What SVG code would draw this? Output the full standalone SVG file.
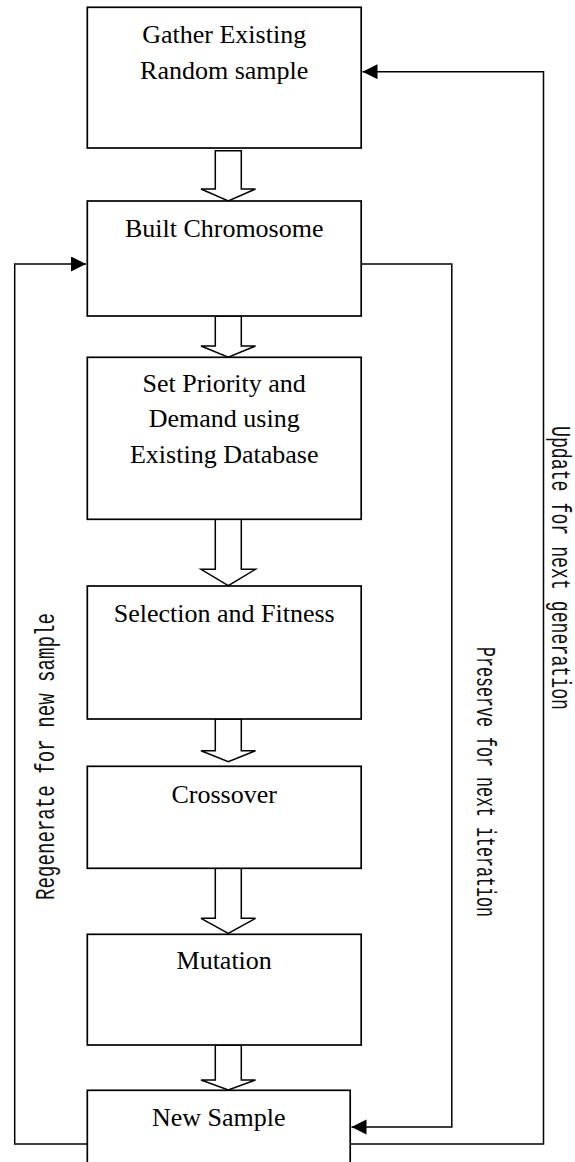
<svg xmlns="http://www.w3.org/2000/svg" width="575" height="1162" viewBox="0 0 575 1162">
<style>
.box{fill:#fff;stroke:#000;stroke-width:1.7}
.blk{fill:#fff;stroke:#000;stroke-width:1.5;stroke-linejoin:miter}
.lbl{font-family:"Liberation Serif","Times New Roman",serif;font-size:26px;fill:#000;text-anchor:middle}
.rot{font-family:"Liberation Mono","Courier New",monospace;font-size:27px;fill:#111}
.con{fill:none;stroke:#000;stroke-width:1.5}
</style>
<defs>
<marker id="ah" markerUnits="userSpaceOnUse" markerWidth="16" markerHeight="16" refX="15" refY="7.5" orient="auto">
<path d="M0,0 L15,7.5 L0,15 Z" fill="#000"/>
</marker>
</defs>
<g id="connectors">
<path class="con" d="M87.3,1144 L14.7,1144 L14.7,264 L86,264" marker-end="url(#ah)"/>
<path class="con" d="M361.2,264 L451.8,264 L451.8,1127 L351.5,1127" marker-end="url(#ah)"/>
<path class="con" d="M350.2,1144 L543.5,1144 L543.5,71.7 L362.5,71.7" marker-end="url(#ah)"/>
<polygon class="blk" points="215.3,150.7 215.3,189 201,189 228.3,201 255.5,189 241.3,189 241.3,150.7"/>
<polygon class="blk" points="215.3,316 215.3,346 201,346 228.3,357.3 255.5,346 241.3,346 241.3,316"/>
<polygon class="blk" points="215.3,519.3 215.3,569.3 201,569.3 228.3,585.7 255.5,569.3 241.3,569.3 241.3,519.3"/>
<polygon class="blk" points="215.3,719 215.3,750.7 201,750.7 228.3,761.7 255.5,750.7 241.3,750.7 241.3,719"/>
<polygon class="blk" points="215.3,868.3 215.3,918.3 201,918.3 228.3,933.3 255.5,918.3 241.3,918.3 241.3,868.3"/>
<polygon class="blk" points="215.3,1045 215.3,1080 201,1080 228.3,1090 255.5,1080 241.3,1080 241.3,1045"/>
<text class="rot" transform="translate(54,900) rotate(-90)" textLength="287" lengthAdjust="spacingAndGlyphs">Regenerate for new sample</text>
<text class="rot" transform="translate(477,647) rotate(90)" textLength="270" lengthAdjust="spacingAndGlyphs">Preserve for next iteration</text>
<text class="rot" transform="translate(552,426) rotate(90)" textLength="284" lengthAdjust="spacingAndGlyphs">Update for next generation</text>
</g>
<g id="gather">
<rect class="box" x="87.3" y="7.3" width="273.9" height="140.7"/>
<text class="lbl" x="224.2" y="43.3">Gather Existing</text>
<text class="lbl" x="224.2" y="79.3">Random sample</text>
</g>
<g id="built">
<rect class="box" x="87.3" y="201" width="273.9" height="115"/>
<text class="lbl" x="224.2" y="237.3">Built Chromosome</text>
</g>
<g id="priority">
<rect class="box" x="87.3" y="357.3" width="273.9" height="162"/>
<text class="lbl" x="224.2" y="391.7">Set Priority and</text>
<text class="lbl" x="224.2" y="427">Demand using</text>
<text class="lbl" x="224.2" y="462.7">Existing Database</text>
</g>
<g id="selection">
<rect class="box" x="87.3" y="586" width="273.9" height="133"/>
<text class="lbl" x="224.2" y="621.7">Selection and Fitness</text>
</g>
<g id="crossover">
<rect class="box" x="87.3" y="766.3" width="273.9" height="102"/>
<text class="lbl" x="224.2" y="802.7">Crossover</text>
</g>
<g id="mutation">
<rect class="box" x="87.3" y="934.3" width="273.9" height="110.7"/>
<text class="lbl" x="224.2" y="969.3">Mutation</text>
</g>
<g id="newsample">
<rect class="box" x="87.3" y="1090.3" width="262.9" height="90"/>
<text class="lbl" x="218.7" y="1125.7">New Sample</text>
</g>
</svg>
